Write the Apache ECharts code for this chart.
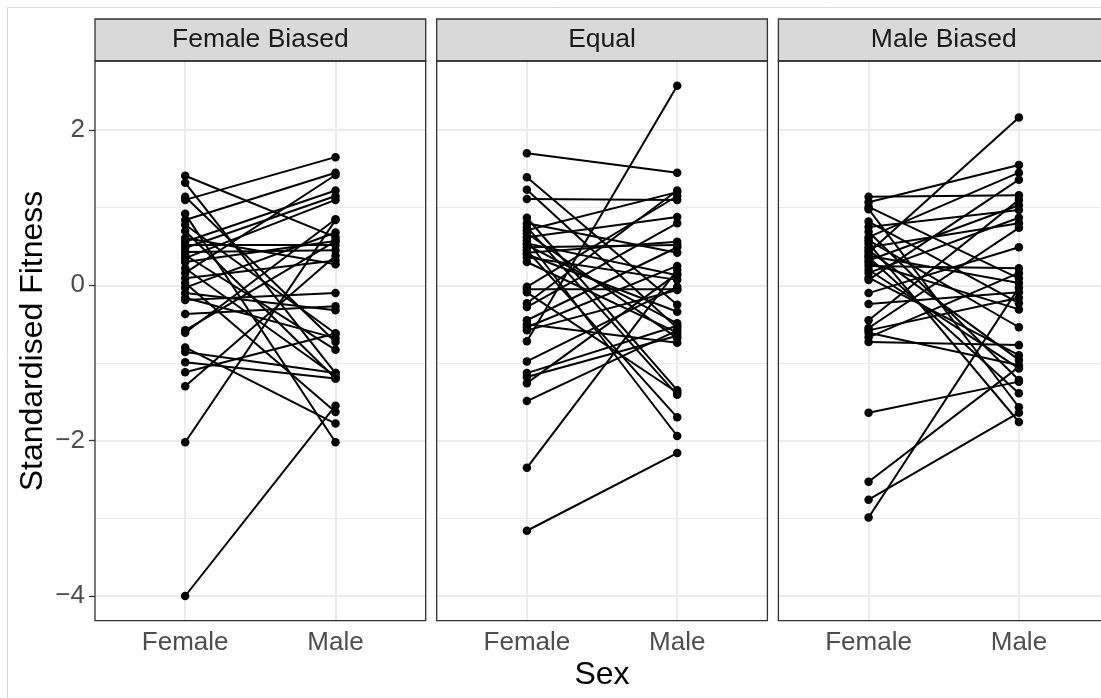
<!DOCTYPE html>
<html>
<head>
<meta charset="utf-8">
<script src="https://cdn.jsdelivr.net/npm/echarts@6/dist/echarts.min.js"></script>
<style>
html,body{margin:0;padding:0;background:#fff;}
#chart{width:1101px;height:698px;}
</style>
</head>
<body>
<div id="chart"></div>
<script>
// ---- data ----
const panels = ["Female Biased", "Equal", "Male Biased"];
const sexCategories = ["Female", "Male"];
const yTicks = [-4, -2, 0, 2];
const yMinorTicks = [-3, -1, 1];

const femaleBiasedFemale = [1.41, 1.32, 1.14, 1.10, 0.92, 0.84, 0.78, 0.70, 0.61, 0.56, 0.52, 0.48, 0.43, 0.39, 0.35, 0.30, 0.22, 0.16, 0.09, 0.03, -0.03, -0.10, -0.16, -0.19, -0.37, -0.58, -0.61, -0.80, -0.86, -0.99, -1.12, -1.30, -2.02, -4.00];
const femaleBiasedMale   = [0.62, -1.13, -0.73, 1.65, -2.02, 1.45, -0.62, -1.20, 0.27, 1.22, 0.52, 1.15, 0.45, -0.83, 1.10, 0.57, -1.17, 1.42, 0.32, -1.63, 0.68, -0.32, -0.68, -0.10, -0.27, 0.57, 0.85, -1.78, -1.13, -1.20, -0.62, 0.38, 0.84, -1.55];

const equalFemale = [1.70, 1.39, 1.23, 1.11, 0.87, 0.80, 0.75, 0.71, 0.67, 0.62, 0.58, 0.54, 0.52, 0.49, 0.45, 0.42, 0.40, 0.36, 0.30, -0.02, -0.05, -0.09, -0.23, -0.28, -0.45, -0.50, -0.54, -0.58, -0.72, -0.98, -1.13, -1.18, -1.26, -1.49, -2.35, -3.16];
const equalMale   = [1.45, -0.25, -0.55, 1.10, -1.35, 0.42, -1.41, 1.20, -0.68, 0.88, -1.94, 0.13, -0.49, 0.52, -1.70, 0.56, -0.34, 0.07, -0.61, 1.15, -0.05, -1.38, 1.22, 0.80, 0.49, -0.74, 0.25, -0.06, 2.57, -0.02, -0.52, -0.65, 0.15, -0.58, 0.20, -2.16];

const maleBiasedFemale = [1.14, 1.07, 1.01, 0.98, 0.82, 0.75, 0.69, 0.62, 0.58, 0.54, 0.49, 0.45, 0.42, 0.38, 0.36, 0.32, 0.29, 0.25, 0.20, 0.16, 0.10, 0.07, -0.10, -0.24, -0.45, -0.55, -0.58, -0.61, -0.67, -0.73, -1.64, -2.53, -2.76, -2.99];
const maleBiasedMale   = [1.16, 1.55, 0.09, -1.57, -0.23, 0.97, -1.22, 1.45, -0.54, -1.76, 0.80, -0.96, 2.16, 0.03, -1.39, 1.03, -0.31, 0.22, -1.07, 0.87, -0.90, 1.36, 0.49, -0.09, 1.10, 0.74, -0.16, -1.03, 0.16, -0.77, -1.24, -1.05, -1.64, -0.03];

const femaleValues = [femaleBiasedFemale, equalFemale, maleBiasedFemale];
const maleValues = [femaleBiasedMale, equalMale, maleBiasedMale];

// ---- layout ----
const CW = 1101;
const panelLefts = [95, 436.7, 778.4];
const panelWidth = 330.7;
const xMin = 0.4, xMax = 2.6;
const plotTop = 61;
const plotHeight = 559.7;
const stripTop = 19;
const stripHeight = 42;
const yMin = -4.318, yMax = 2.888;
const FONT = "'Liberation Sans', Arial, sans-serif";

const grids = [], xAxes = [], yAxes = [], series = [], graphics = [];

graphics.push({type:'rect', shape:{x:7.5, y:7.5, width:1200, height:800}, style:{fill:null, stroke:'#d9d9d9', lineWidth:1}, silent:true, z:-10});

panels.forEach((name, p) => {
  // the last panel runs past the canvas edge: clip the grid and shorten the x range to keep the same scale
  const visW = Math.min(panelWidth, CW - panelLefts[p]);
  const thisMax = xMin + (xMax - xMin) * visW / panelWidth;
  grids.push({left: panelLefts[p], top: plotTop, width: visW, height: plotHeight,
    show: false, containLabel: false});
  xAxes.push({type:'value', gridIndex:p, min:xMin, max:thisMax,
    axisLine:{show:false},
    splitLine:{show:false},
    axisTick:{show:true, customValues:[1,2], length:6, lineStyle:{color:'#333333', width:1.3}},
    axisLabel:{show:true, customValues:[1,2], margin:9, color:'#4d4d4d', fontSize:26, fontFamily:FONT,
      formatter: v => sexCategories[Math.round(v)-1] || ''}
  });
  yAxes.push({type:'value', gridIndex:p, min:yMin, max:yMax,
    axisLine:{show:false},
    splitLine:{show:false},
    axisTick:{show: p===0, customValues:yTicks, length:6, lineStyle:{color:'#333333', width:1.3}},
    axisLabel:{show: p===0, customValues:yTicks, margin:10, color:'#4d4d4d', fontSize:26, fontFamily:FONT,
      formatter: v => (v < 0 ? '\u2212' + Math.abs(v) : String(v))}
  });
  // grid lines
  series.push({type:'line', xAxisIndex:p, yAxisIndex:p, data:[[xMin, 0]], symbol:'none', showSymbol:false,
    lineStyle:{opacity:0}, silent:true, z:1,
    markLine:{silent:true, z:1, symbol:['none','none'], label:{show:false}, animation:false,
      data: [
        ...yMinorTicks.map(v => ({yAxis:v, lineStyle:{color:'#ebebeb', width:1, type:'solid'}})),
        ...yTicks.map(v => ({yAxis:v, lineStyle:{color:'#ebebeb', width:2, type:'solid'}})),
        ...[1,2].map(v => ({xAxis:v, lineStyle:{color:'#ebebeb', width:2, type:'solid'}}))
      ]}
  });
  const f = femaleValues[p], m = maleValues[p];
  for (let i = 0; i < f.length; i++) {
    series.push({type:'line', xAxisIndex:p, yAxisIndex:p, data:[[1, f[i]], [2, m[i]]],
      symbol:'none', showSymbol:false, silent:true, animation:false, z:8,
      lineStyle:{color:'#000000', width:2}});
  }
  const pts = [];
  for (let i = 0; i < f.length; i++) { pts.push([1, f[i]]); pts.push([2, m[i]]); }
  series.push({type:'scatter', xAxisIndex:p, yAxisIndex:p, data:pts, symbol:'circle', symbolSize:8.5,
    itemStyle:{color:'#000000', opacity:1, borderWidth:0}, silent:true, animation:false, z:10});
  // panel border
  graphics.push({type:'rect', shape:{x:panelLefts[p], y:plotTop, width:panelWidth, height:plotHeight},
    style:{fill:null, stroke:'#333333', lineWidth:1.3}, silent:true, z:20});
  // strip
  graphics.push({type:'rect', shape:{x:panelLefts[p], y:stripTop, width:panelWidth, height:stripHeight},
    style:{fill:'#d9d9d9', stroke:'#333333', lineWidth:1.3}, silent:true, z:5});
  graphics.push({type:'text', x:panelLefts[p] + panelWidth/2, y:stripTop + stripHeight/2,
    style:{text:name, fill:'#1a1a1a', font:'26.5px ' + FONT, textAlign:'center', textVerticalAlign:'middle'}, silent:true, z:6});
});

graphics.push({type:'text', x:602, y:675, style:{text:'Sex', fill:'#000000', font:'32px ' + FONT, textAlign:'center', textVerticalAlign:'middle'}, silent:true});
graphics.push({type:'text', x:33, y:341, rotation:Math.PI/2, style:{text:'Standardised Fitness', fill:'#000000', font:'32px ' + FONT, textAlign:'center', textVerticalAlign:'middle'}, silent:true});

const chart = echarts.init(document.getElementById('chart'), null, {renderer:'canvas'});
chart.setOption({
  animation:false,
  backgroundColor:'#ffffff',
  grid: grids, xAxis: xAxes, yAxis: yAxes, series: series, graphic: graphics
});
</script>
</body>
</html>
